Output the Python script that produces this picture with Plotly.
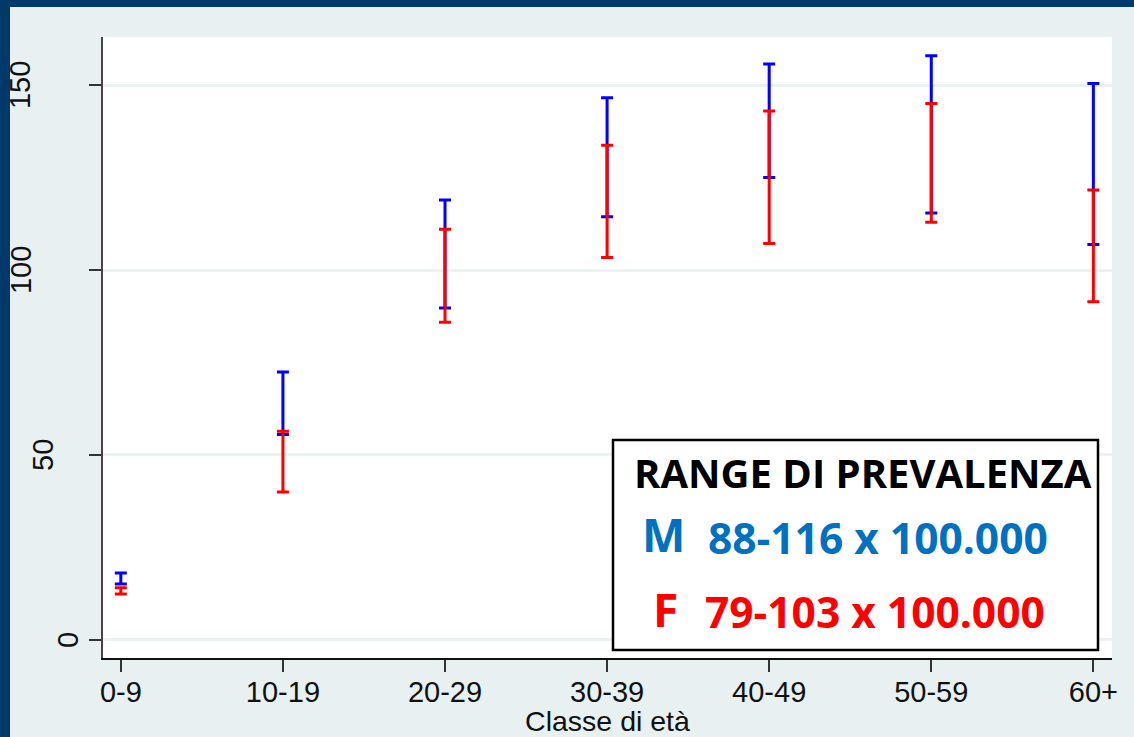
import plotly.graph_objects as go

# ---- data ----
age_classes = ["0-9", "10-19", "20-29", "30-39", "40-49", "50-59", "60+"]
male_low = [15.1, 55.5, 89.7, 114.4, 125.0, 115.4, 106.9]
male_high = [18.1, 72.4, 118.9, 146.6, 155.7, 157.9, 150.4]
female_low = [12.4, 40.0, 85.9, 103.4, 107.2, 112.9, 91.4]
female_high = [14.1, 56.4, 111.0, 133.7, 143.0, 145.0, 121.6]
y_ticks = [0, 50, 100, 150]
y_tick_labels = ["0", "50", "100", "150"]
x_title = "Classe di età"
box_title = "RANGE DI PREVALENZA"
male_label, male_text = "M", "88-116 x 100.000"
female_label, female_text = "F", "79-103 x 100.000"

# ---- layout geometry (pixels) ----
W, H = 1134, 737
ML, MR, MT, MB = 103, 22, 37, 79
PW, PH = W - ML - MR, H - MT - MB
ylabel_px_x = [68, 43, 21, 20]   # horizontal centres of the rotated y tick labels


def px(x):
    return (x - ML) / PW


def py(y):
    return (H - MB - y) / PH


def series(low, high, color):
    mid = [(a + b) / 2 for a, b in zip(low, high)]
    return go.Scatter(
        x=age_classes,
        y=mid,
        mode="markers",
        marker=dict(size=1, color="rgba(0,0,0,0)"),
        error_y=dict(
            type="data",
            symmetric=False,
            array=[h - m for h, m in zip(high, mid)],
            arrayminus=[m - l for m, l in zip(mid, low)],
            color=color,
            thickness=3,
            width=6,
        ),
        showlegend=False,
        hoverinfo="skip",
    )


fig = go.Figure()
fig.add_trace(series(male_low, male_high, "#0000FF"))
fig.add_trace(series(female_low, female_high, "#FF0000"))

bg = "#E8F0F2"
tick_font = dict(family="Liberation Sans, Arial, sans-serif", size=29, color="#111111")
title_font = dict(family="Liberation Sans, Arial, sans-serif", size=28.5, color="#111111")

fig.update_layout(
    width=W,
    height=H,
    margin=dict(l=ML, r=MR, t=MT, b=MB),
    paper_bgcolor=bg,
    plot_bgcolor="white",
    xaxis=dict(
        range=[-0.11, 6.115],
        automargin=False,
        showgrid=False,
        zeroline=False,
        showline=True,
        linecolor="#111111",
        linewidth=2,
        ticks="outside",
        ticklen=12,
        tickwidth=1.5,
        tickcolor="#333333",
        tickfont=tick_font,
        ticklabelstandoff=-5,
        title=dict(text=x_title, font=title_font, standoff=8),
    ),
    yaxis=dict(
        range=[-4.9, 163],
        automargin=False,
        tickmode="array",
        tickvals=y_ticks,
        ticktext=y_tick_labels,
        showticklabels=False,
        showgrid=True,
        gridcolor="#EAF2F3",
        gridwidth=2.5,
        zeroline=False,
        showline=True,
        linecolor="#444444",
        linewidth=2,
        ticks="outside",
        ticklen=12,
        tickwidth=1.5,
        tickcolor="#333333",
    ),
)

shapes = [
    # dark frame strips
    dict(type="rect", xref="paper", yref="paper", x0=px(0), x1=px(10), y0=py(H), y1=py(0),
         fillcolor="#003A6A", line=dict(width=0), layer="above"),
    dict(type="rect", xref="paper", yref="paper", x0=px(0), x1=px(W), y0=py(7), y1=py(0),
         fillcolor="#003A6A", line=dict(width=0), layer="above"),
    # legend box
    dict(type="rect", xref="paper", yref="paper", x0=px(613), x1=px(1098), y0=py(650), y1=py(440),
         fillcolor="white", line=dict(color="black", width=2.5), layer="above"),
]
fig.update_layout(shapes=shapes)

annotations = []
# rotated y tick labels
for val, lab, xp in zip(y_ticks, y_tick_labels, ylabel_px_x):
    annotations.append(dict(
        text=lab, x=px(xp), y=val, xref="paper", yref="y",
        xanchor="center", yanchor="middle", showarrow=False, textangle=-90,
        font=tick_font,
    ))

bold = "Open Sans, sans-serif"
box_texts = [
    dict(text="<b>%s</b>" % box_title, x=px(863), y=py(473), size=40, color="black"),
    dict(text="<b>%s</b>" % male_label, x=px(663), y=py(535), size=46, color="#0070C0"),
    dict(text="<b>%s</b>" % male_text, x=px(878), y=py(538), size=42.5, color="#0070C0"),
    dict(text="<b>%s</b>" % female_label, x=px(665), y=py(610), size=46, color="#FF0000"),
    dict(text="<b>%s</b>" % female_text, x=px(875), y=py(612), size=42.5, color="#FF0000"),
]
for a in box_texts:
    annotations.append(dict(
        text=a["text"], x=a["x"], y=a["y"], xref="paper", yref="paper",
        xanchor="center", yanchor="middle", showarrow=False, yshift=1,
        font=dict(family=bold, size=a["size"], color=a["color"]),
    ))
fig.update_layout(annotations=annotations)

fig.write_html("out.html")
